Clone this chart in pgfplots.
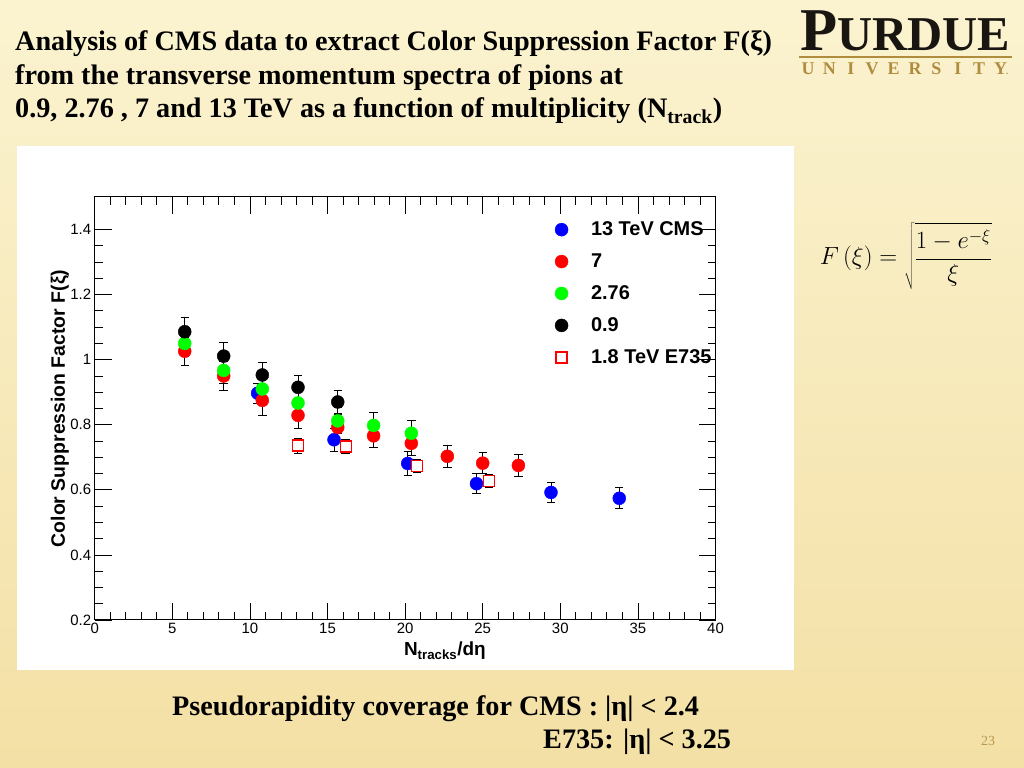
\documentclass[border=0pt]{standalone}
\usepackage{fontspec}
\setmainfont{Liberation Sans}
\newfontfamily\timesf{Liberation Serif}
\usepackage{pgfplots}
\usepackage{pgfplotstable}
\pgfplotsset{compat=1.18}
\definecolor{bgtop}{RGB}{251,243,208}
\definecolor{bgbot}{RGB}{243,224,165}
\definecolor{gold}{RGB}{176,140,62}
\definecolor{logoblack}{RGB}{25,22,18}

\pgfplotstableread{
x y ey
10.5 0.897 0.030
15.42 0.754 0.036
20.17 0.681 0.037
24.6 0.619 0.030
29.4 0.592 0.031
33.8 0.574 0.032
}\cmsthirteen
\pgfplotstableread{
x y ey
5.8 1.026 0.044
8.31 0.950 0.044
10.8 0.875 0.045
13.1 0.829 0.040
15.66 0.792 0.040
17.97 0.766 0.036
20.4 0.743 0.036
22.72 0.703 0.033
25.0 0.682 0.033
27.3 0.675 0.035
}\cmsseven
\pgfplotstableread{
x y ey
5.8 1.050 0.040
8.31 0.967 0.040
10.8 0.910 0.040
13.1 0.867 0.040
15.66 0.812 0.040
17.97 0.798 0.040
20.4 0.774 0.038
}\cmstwo
\pgfplotstableread{
x y ey
5.8 1.086 0.045
8.31 1.011 0.042
10.8 0.953 0.039
13.1 0.915 0.036
15.66 0.870 0.036
}\cmsnine
\pgfplotstableread{
x y ey
13.08 0.736 0.023
16.17 0.733 0.021
20.77 0.674 0.021
25.4 0.627 0.021
}\esevenfive

\pgfplotsset{
  errs/.style={forget plot,draw=none,mark=none,
    error bars/.cd,y dir=both,y explicit,
    error bar style={draw=black,solid,line width=0.8bp},
    error mark options={draw=black,rotate=90,mark size=4.2bp,line width=0.8bp}},
  dots/.style={only marks,mark=*,mark size=6.5bp,color=#1,mark options={draw=#1,fill=#1}},
}

\begin{document}
\begin{tikzpicture}
\begin{scope}[x=1bp,y=1bp]
% slide background
\fill[top color=bgtop,bottom color=bgbot] (0,0) rectangle (1024,768);
\fill[white] (17,98) rectangle (794,622);

% title
\begin{scope}[every node/.style={anchor=base west,inner sep=0,font=\timesf\bfseries\fontsize{28.3}{34}\selectfont}]
\node at (15,768-51) {Analysis of CMS data to extract Color Suppression Factor F(ξ)};
\node at (15,768-85) {from the transverse momentum spectra of pions at};
\node at (15,768-118) {0.9, 2.76 , 7 and 13 TeV as a function of multiplicity (N\textsubscript{track})};
\end{scope}

% Purdue logo
\node[anchor=base west,inner sep=0,text=logoblack,font=\timesf\bfseries] at (800,768-51)
  {\resizebox{210bp}{!}{\fontsize{40}{40}\selectfont P\fontsize{32}{32}\selectfont URDUE}};
\fill[gold] (799,768-58) rectangle (1012,768-56);
\foreach \l [count=\i] in {U,N,I,V,E,R,S,I,T,Y}
  \node[anchor=base,inner sep=0,text=gold,font=\timesf\bfseries\fontsize{18}{18}\selectfont] at (808+\i*21.4-21.4,768-75) {\l};
\node[anchor=base west,inner sep=0,text=gold,font=\timesf\bfseries\fontsize{9}{9}\selectfont] at (1006,768-75) {.};

% formula
\node[anchor=center,inner sep=0,font=\fontsize{23.5}{28}\selectfont] at (906,768-256)
  {$\displaystyle F\,(\xi)=\sqrt{\frac{1-e^{-\xi}}{\xi}}$};

% bottom notes
\node[anchor=base west,inner sep=0,font=\timesf\bfseries\fontsize{28.3}{34}\selectfont] at (172,768-716)
  {Pseudorapidity coverage for CMS : |η| < 2.4};
\node[anchor=base west,inner sep=0,font=\timesf\bfseries\fontsize{28.3}{34}\selectfont] at (543,768-749)
  {E735: |η| < 3.25};
\node[anchor=base,inner sep=0,text=gold!90!white,font=\timesf\fontsize{14}{14}\selectfont] at (988,768-746) {23};
\end{scope}

\begin{axis}[
  at={(94.7bp,148bp)}, anchor=south west,
  width=620.8bp, height=423bp, scale only axis,
  xmin=0, xmax=40, ymin=0.2, ymax=1.5,
  xtick={0,5,10,15,20,25,30,35,40},
  ytick={0.2,0.4,0.6,0.8,1,1.2,1.4},
  minor x tick num=4, minor y tick num=3,
  tick align=inside,
  major tick length=17bp, minor tick length=8bp,
  axis line style={black,line width=1bp},
  tick style={black,line width=0.8bp},
  tick label style={font=\fontsize{15}{18}\selectfont},
  /pgf/number format/assume math mode=true,
  xlabel={N\textsubscript{tracks}/dη},
  ylabel={Color Suppression Factor F(ξ)},
  every axis x label/.style={at={(axis description cs:0.564,-0.073)},anchor=center,font=\bfseries\fontsize{19}{22}\selectfont},
  every axis y label/.style={at={(axis description cs:-0.056,0.5)},rotate=90,anchor=center,font=\bfseries\fontsize{19.5}{22}\selectfont},
  legend image code/.code={\draw[mark repeat=2,mark phase=2,#1] plot coordinates {(0bp,0bp) (13bp,0bp) (26bp,0bp)};},
  legend style={at={(axis cs:29.65,1.43)},anchor=north west,draw=none,fill=none,
    font=\bfseries\fontsize{20}{22}\selectfont,row sep=12.6bp,inner sep=0pt},
  legend cell align=left,
]
\addplot[errs] table[x=x,y=y,y error=ey]{\cmsthirteen};
\addplot[dots=blue] table[x=x,y=y]{\cmsthirteen};
\addlegendentry{\hspace{21bp}13 TeV CMS}
\addplot[errs] table[x=x,y=y,y error=ey]{\cmsseven};
\addplot[dots=red] table[x=x,y=y]{\cmsseven};
\addlegendentry{\hspace{21bp}7}
\addplot[errs] table[x=x,y=y,y error=ey]{\cmstwo};
\addplot[dots=green] table[x=x,y=y]{\cmstwo};
\addlegendentry{\hspace{21bp}2.76}
\addplot[errs] table[x=x,y=y,y error=ey]{\cmsnine};
\addplot[dots=black] table[x=x,y=y]{\cmsnine};
\addlegendentry{\hspace{21bp}0.9}
\addplot[errs] table[x=x,y=y,y error=ey]{\esevenfive};
\addplot[only marks,mark=square*,mark size=5.5bp,draw=red,fill=white,line width=1.2bp,
  mark options={solid,draw=red,fill=white,line width=1.2bp},
  legend image code/.code={\draw[red,fill=white,line width=1.2bp] (7.5bp,-5.5bp) rectangle (18.5bp,5.5bp);}]
  table[x=x,y=y]{\esevenfive};
\addlegendentry{\hspace{21bp}1.8 TeV E735}
\end{axis}
\end{tikzpicture}
\end{document}
